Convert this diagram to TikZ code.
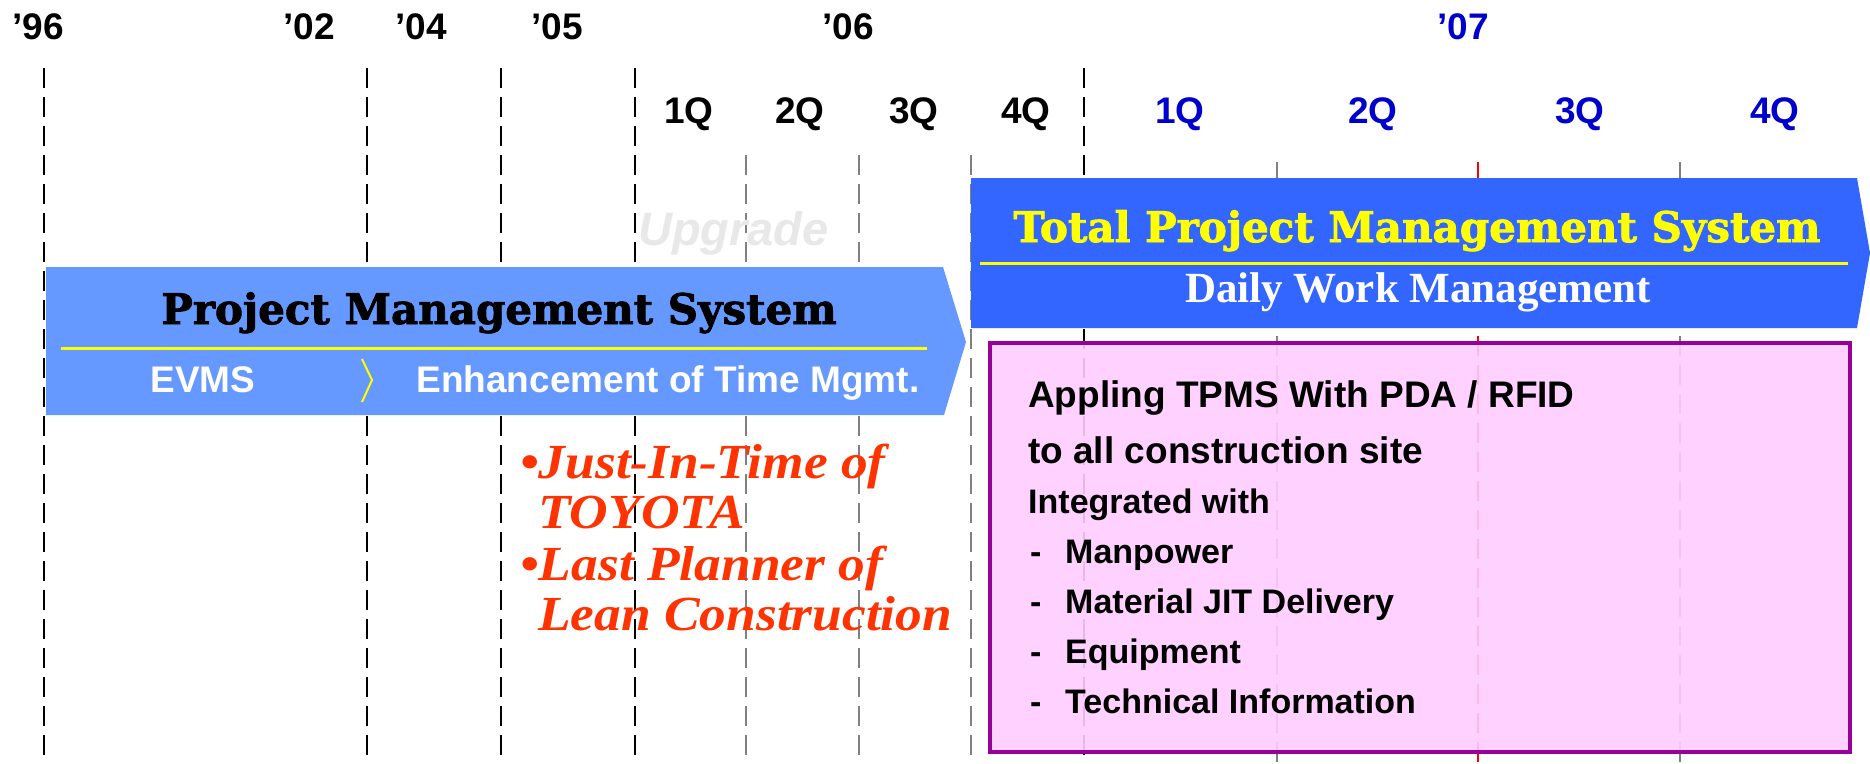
\documentclass[tikz,border=0pt]{standalone}
\usepackage{fontspec}
\setmainfont{Liberation Serif}
\setsansfont{Liberation Sans}
\newfontfamily\slabfont{DejaVu Serif}[BoldFeatures={FakeBold=2}]
\newfontfamily\leanfont{Liberation Serif}[FakeStretch=1.09]
\usepackage{xcolor}
\usepackage{tikz}
\usetikzlibrary{positioning}
\definecolor{pmsblue}{RGB}{102,153,255}
\definecolor{tpmsblue}{RGB}{51,102,255}
\definecolor{quarterblue}{RGB}{0,0,204}
\definecolor{leanred}{RGB}{255,51,0}
\definecolor{boxpink}{RGB}{255,204,255}
\definecolor{boxpurple}{RGB}{153,0,153}
\definecolor{upgradegray}{RGB}{232,232,232}
\definecolor{markyellow}{RGB}{255,255,0}

\begin{document}
\begin{tikzpicture}[x=1pt, y=-1pt,
    ticklabel/.style={font=\sffamily\bfseries\fontsize{37}{40}\selectfont, anchor=base, inner sep=0pt},
    yeargrid/.style={black, line width=2pt, dash pattern=on 20pt off 9pt},
    quartergrid/.style={gray, line width=1.6pt, dash pattern=on 20pt off 9pt},
    slabtitle/.style={font=\slabfont\bfseries\fontsize{42}{44}\selectfont, anchor=base, inner sep=0pt},
    bandtext/.style={font=\sffamily\bfseries\fontsize{37}{40}\selectfont, text=white, anchor=base, inner sep=0pt},
    leantext/.style={font=\leanfont\bfseries\itshape\fontsize{49}{52}\selectfont, text=leanred, anchor=base west, inner sep=0pt},
    boxtext/.style={font=\sffamily\bfseries\fontsize{37}{40}\selectfont, anchor=base west, inner sep=0pt},
    itemtext/.style={font=\sffamily\bfseries\fontsize{34}{38}\selectfont, anchor=base west, inner sep=0pt}]
    \useasboundingbox (0,0) rectangle (1870,763);

    % grid
    \foreach \gx in {44,367,501,635,1084}
        \draw[yeargrid] (\gx,68) -- (\gx,763);
    \foreach \gx in {746,859,971}
        \draw[quartergrid] (\gx,155) -- (\gx,763);
    \foreach \gx in {1277,1680}
        \draw[quartergrid] (\gx,162) -- (\gx,763);
    \draw[quartergrid, red] (1478,162) -- (1478,763);

    % years and quarters
    \node[ticklabel] (y96) at (38,39) {'96};
    \node[ticklabel] (y02) at (309,39) {'02};
    \node[ticklabel] (y04) at (421,39) {'04};
    \node[ticklabel] (y05) at (557,39) {'05};
    \node[ticklabel] (y06) at (848,39) {'06};
    \node[ticklabel, text=quarterblue] (y07) at (1463,39) {'07};
    \foreach \qx/\qn in {689/1,800/2,914/3,1026/4}
        \node[ticklabel] (q06\qn) at (\qx,123) {\qn Q};
    \foreach \qx/\qn in {1180/1,1373/2,1580/3,1775/4}
        \node[ticklabel, text=quarterblue] (q07\qn) at (\qx,123) {\qn Q};

    \node[font=\sffamily\bfseries\itshape\fontsize{47}{50}\selectfont, text=upgradegray,
          anchor=base west, inner sep=0pt] (upgrade) at (638,245) {Upgrade};

    % old system
    \fill[pmsblue] (46,267) -- (943,267) -- (966,342) -- (944,415) -- (46,415) -- cycle;
    \node[slabtitle] (pms) at (499,324) {Project Management System};
    \draw[markyellow, line width=3pt] (61,348) -- (927,348);
    \node[bandtext] (evms) at (203,392) {EVMS};
    \draw[markyellow, line width=2pt] (362,359) -- (372,380) -- (362,402);
    \node[bandtext] (timemgmt) at (668,392) {Enhancement of Time Mgmt.};

    % new system
    \fill[tpmsblue] (971,178) -- (1857,178) -- (1870,253) -- (1857,328) -- (971,328) -- cycle;
    \node[slabtitle, text=markyellow] (tpms) at (1417,242) {Total Project Management System};
    \draw[markyellow, line width=3pt] (980,263) -- (1848,263);
    \node[font=\rmfamily\bfseries\fontsize{43}{46}\selectfont, text=white, anchor=base, inner sep=0pt]
        (daily) at (1418,302) {Daily Work Management};

    % lean notes
    \node[leantext] (jit) at (520,478) {\textbullet Just-In-Time of};
    \node[leantext] (toyota) at (538,528) {TOYOTA};
    \node[leantext] (planner) at (520,580) {\textbullet Last Planner of};
    \node[leantext] (leancon) at (538,630) {Lean Construction};

    % plan box
    \draw[boxpurple, line width=4pt, fill=boxpink, fill opacity=0.9] (990,343) rectangle (1850,752);
    \node[boxtext] (appling) at (1028,407) {Appling TPMS With PDA / RFID};
    \node[boxtext] (allsite) at (1028,463) {to all construction site};
    \node[itemtext] (integrated) at (1028,513) {Integrated with};
    \foreach \iy/\item in {563/Manpower,613/Material JIT Delivery,663/Equipment,713/Technical Information}{
        \node[itemtext] at (1030,\iy) {-};
        \node[itemtext] at (1065,\iy) {\item};
    }
\end{tikzpicture}
\end{document}
